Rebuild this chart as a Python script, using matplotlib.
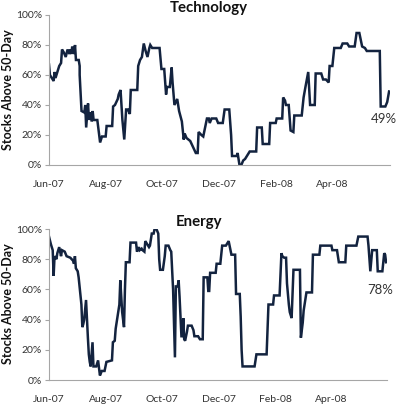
import matplotlib
matplotlib.use("Agg")
import matplotlib.pyplot as plt
import pandas as pd
import numpy as np

# ---- Data (days since 2007-06-01, % of stocks above 50-day MA) ----
tech_days = [0, 1, 3, 5, 6, 7, 8, 11, 13, 14, 16, 18, 20, 22, 23, 24, 25, 27, 28, 29,
             32, 33, 33, 35, 38, 39, 40, 42, 43, 44, 46, 47, 48, 52, 55, 57, 61, 62, 68, 69,
             71, 74, 75, 77, 79, 81, 83, 85, 87, 88, 91, 95, 96, 98, 100, 102, 104, 106, 108, 109,
             111, 119, 121, 124, 126, 127, 130, 132, 133, 135, 138, 140, 143, 145, 146, 148, 152, 155, 158, 160,
             161, 164, 166, 170, 172, 173, 175, 180, 182, 187, 189, 194, 196, 197, 202, 203, 205, 207, 209, 211,
             213, 216, 223, 224, 229, 230, 237, 238, 244, 245, 251, 252, 254, 255, 258, 260, 263, 264, 272, 274,
             276, 279, 281, 286, 287, 293, 295, 298, 301, 302, 305, 307, 314, 316, 321, 323, 329, 331, 334, 337,
             340, 342, 356, 357, 362, 364, 366]
tech_vals = [67, 60, 58, 56, 62, 58, 60, 66, 68, 77, 75, 72, 77, 74, 77, 74, 79, 74, 80, 70,
             70, 66, 60, 36, 35, 40, 25, 41, 30, 35, 29, 36, 30, 30, 15, 19, 19, 26, 26, 39,
             40, 44, 47, 50, 30, 17, 37, 37, 34, 50, 50, 50, 66, 70, 72, 81, 76, 72, 78, 80,
             78, 78, 64, 64, 47, 52, 52, 65, 55, 40, 44, 36, 29, 17, 21, 18, 16, 12, 8, 8,
             22, 20, 19, 31, 31, 28, 31, 31, 28, 28, 37, 37, 20, 6, 6, 8, 0, 0, 3, 4,
             6, 9, 9, 25, 25, 14, 14, 28, 28, 31, 31, 45, 43, 40, 40, 23, 22, 33, 33, 45,
             52, 62, 40, 40, 61, 61, 57, 57, 55, 66, 66, 78, 78, 81, 81, 79, 79, 88, 88, 79,
             78, 76, 76, 39, 39, 42, 49]

energy_days = [0, 2, 4, 5, 6, 8, 9, 11, 13, 14, 17, 19, 23, 26, 27, 28, 29, 31, 32, 33,
               35, 36, 37, 38, 40, 41, 42, 43, 44, 45, 47, 48, 51, 53, 54, 55, 57, 60, 62, 68,
               69, 71, 72, 74, 76, 77, 79, 81, 82, 83, 87, 88, 94, 95, 97, 98, 100, 101, 103, 104,
               106, 108, 109, 111, 113, 114, 116, 118, 119, 120, 123, 125, 126, 129, 131, 132, 134, 135, 136, 137,
               139, 140, 141, 143, 144, 145, 146, 147, 149, 150, 154, 156, 157, 161, 163, 166, 167, 171, 172, 173,
               174, 180, 181, 185, 187, 191, 193, 194, 195, 197, 201, 202, 206, 207, 208, 209, 222, 224, 235, 237,
               242, 243, 249, 251, 252, 254, 256, 257, 259, 260, 262, 264, 271, 272, 274, 275, 276, 278, 284, 285,
               292, 293, 305, 306, 311, 313, 320, 321, 332, 334, 344, 345, 347, 349, 354, 355, 360, 362, 363, 364]
energy_vals = [95, 90, 86, 69, 82, 80, 84, 88, 82, 86, 85, 82, 81, 79, 77, 82, 74, 72, 68, 62,
               50, 35, 37, 40, 53, 40, 28, 17, 12, 9, 25, 9, 9, 13, 8, 3, 6, 6, 12, 13,
               25, 26, 34, 42, 50, 66, 45, 35, 60, 78, 78, 91, 91, 85, 88, 86, 87, 86, 85, 92,
               90, 88, 89, 97, 97, 100, 100, 97, 80, 73, 73, 82, 89, 89, 86, 85, 60, 38, 15, 62,
               62, 66, 55, 29, 29, 41, 27, 26, 32, 36, 36, 33, 29, 29, 27, 27, 68, 68, 59, 59,
               71, 71, 77, 77, 89, 89, 91, 92, 89, 83, 83, 57, 57, 42, 20, 9, 9, 17, 17, 50,
               50, 56, 56, 84, 82, 81, 81, 64, 50, 45, 41, 73, 73, 28, 38, 46, 50, 58, 58, 83,
               83, 89, 89, 86, 86, 78, 78, 89, 89, 95, 95, 89, 72, 86, 86, 72, 72, 84, 83, 78]

tick_dates = ["2007-06-01", "2007-08-01", "2007-10-01", "2007-12-01", "2008-02-01", "2008-04-01"]
tick_labels = ["Jun-07", "Aug-07", "Oct-07", "Dec-07", "Feb-08", "Apr-08"]
y_ticks = [0, 20, 40, 60, 80, 100]
titles = ["Technology", "Energy"]
end_labels = ["49%", "78%"]

# ---- Styling ----
FONT = "Lato"
LINE = "#13233f"
TXT = "#333333"
GRID = "#a6a6a6"

start = pd.Timestamp("2007-06-01")
tick_pos = [(pd.Timestamp(d) - start).days for d in tick_dates]

fig = plt.figure(figsize=(4.0, 4.07), dpi=100)
ax1 = fig.add_axes([0.1225, 0.5946, 0.8525, 0.3686])
ax2 = fig.add_axes([0.1225, 0.0663, 0.845, 0.371])

series = [(tech_days, tech_vals), (energy_days, energy_vals)]
title_x = [0.469, 0.444]
ylab_y = [0.781, 0.253]
xmax = [367, 365]

for i, ax in enumerate([ax1, ax2]):
    d, v = series[i]
    ax.plot(d, v, color=LINE, lw=1.8, solid_joinstyle="miter")
    ax.set_xlim(0, xmax[i])
    ax.set_ylim(0, 100)
    ax.set_yticks(y_ticks)
    ax.set_yticklabels([f"{t}%" for t in y_ticks], fontsize=7.5, color=TXT, family=FONT)
    ax.set_xticks(tick_pos)
    ax.set_xticklabels(tick_labels, fontsize=7.5, color=TXT, family=FONT)
    ax.tick_params(axis="x", length=0, pad=11)
    ax.tick_params(axis="y", length=3, width=0.8, color=GRID, pad=2)
    for s in ["top", "right"]:
        ax.spines[s].set_visible(False)
    for s in ["left", "bottom"]:
        ax.spines[s].set_color(GRID)
        ax.spines[s].set_linewidth(0.8)
    ax.patch.set_alpha(0)
    ax.text(title_x[i], 1.045, titles[i], transform=ax.transAxes, ha="center", va="center",
            fontsize=10.8, fontweight="bold", family=FONT, color="#111111")
    fig.text(0.02, ylab_y[i], "Stocks Above 50-Day", rotation=90, ha="center", va="center",
             fontsize=9, fontweight="bold", family=FONT, color="#111111")
    ax.annotate(end_labels[i], xy=(d[-1], v[-1]), xytext=(-4, -20), textcoords="offset points",
                ha="center", va="center", fontsize=9.5, family=FONT, color=TXT)

fig.savefig("out.png", dpi=100)
